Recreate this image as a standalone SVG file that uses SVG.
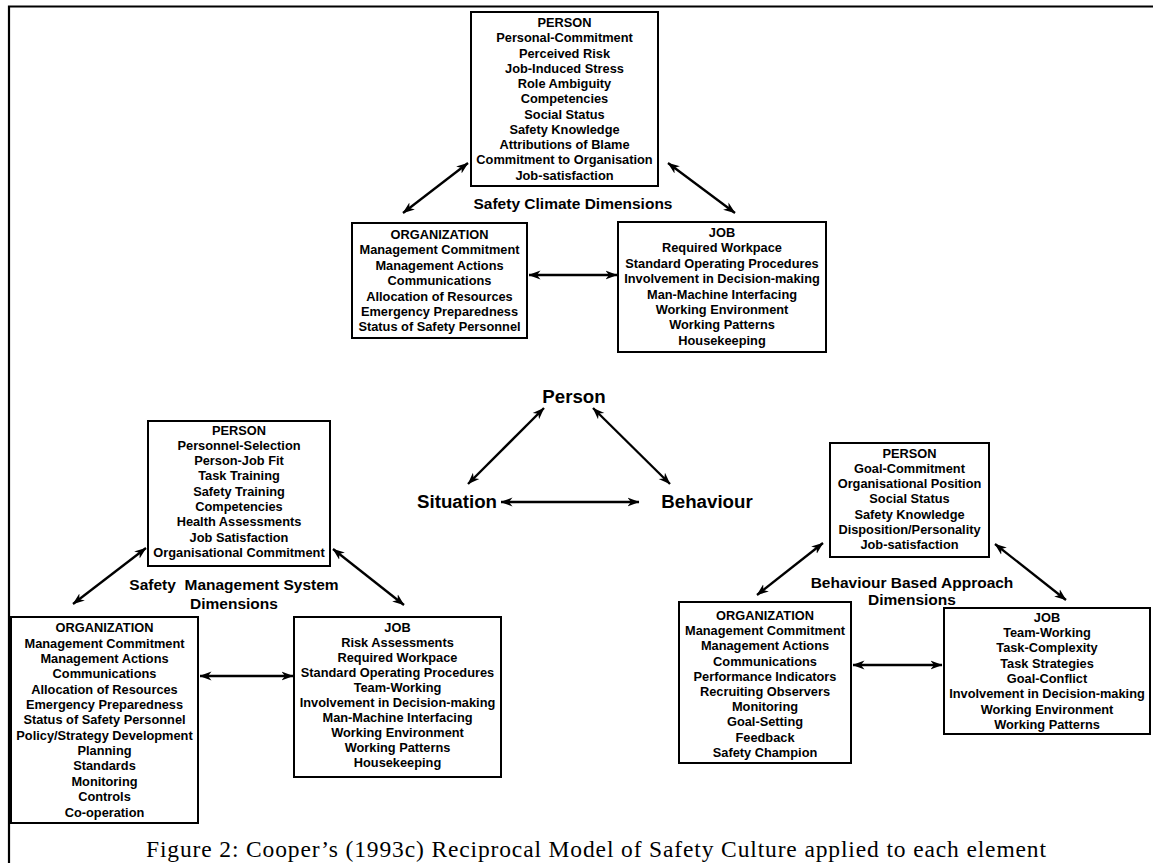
<svg xmlns="http://www.w3.org/2000/svg" width="1153" height="863" viewBox="0 0 1153 863">
<defs>
<marker id="ah" viewBox="0 0 12 10" refX="11.5" refY="5" markerWidth="12" markerHeight="10" markerUnits="userSpaceOnUse" orient="auto-start-reverse">
<path d="M0,0.5 L12,5 L0,9.5 L3.5,5 Z" fill="#000"/>
</marker>
<style>
.box{fill:#fff;stroke:#000;stroke-width:2}
.t{font-family:"Liberation Sans",Arial,Helvetica,sans-serif;font-weight:bold;font-size:12.8px;text-anchor:middle;fill:#000}
.lbl{font-family:"Liberation Sans",Arial,Helvetica,sans-serif;font-weight:bold;font-size:15.5px;text-anchor:middle;fill:#000;white-space:pre}
.big{font-family:"Liberation Sans",Arial,Helvetica,sans-serif;font-weight:bold;font-size:18.7px;text-anchor:middle;fill:#000}
.cap{font-family:"Liberation Serif","Times New Roman",serif;font-size:23.5px;fill:#000}
.c{fill:none;stroke:#000;stroke-width:2.3;marker-start:url(#ah);marker-end:url(#ah)}
</style>
</defs>
<rect width="1153" height="863" fill="#fff"/>
<path d="M9,863 V6.5 H1153" fill="none" stroke="#000" stroke-width="2.2"/>

<g id="connectors">
<line class="c" x1="403" y1="213" x2="468" y2="163"/>
<line class="c" x1="668" y1="163" x2="735" y2="213"/>
<line class="c" x1="529" y1="275" x2="617" y2="275"/>
<line class="c" x1="544" y1="408" x2="468" y2="484"/>
<line class="c" x1="593" y1="408" x2="670" y2="484"/>
<line class="c" x1="501" y1="502" x2="639" y2="502"/>
<line class="c" x1="146" y1="548" x2="73" y2="604"/>
<line class="c" x1="333" y1="549" x2="404" y2="605"/>
<line class="c" x1="200" y1="676" x2="293" y2="676"/>
<line class="c" x1="823" y1="543" x2="757" y2="595"/>
<line class="c" x1="995" y1="544" x2="1066" y2="600"/>
<line class="c" x1="853" y1="665" x2="942" y2="665"/>
</g>

<g id="center">
<text class="big" x="574" y="403">Person</text>
<text class="big" x="457" y="508">Situation</text>
<text class="big" x="707" y="508">Behaviour</text>
</g>

<g id="sc-person">
<rect class="box" x="471" y="12" width="187" height="174"/>
<text class="t" y="11.75"><tspan x="564.5" dy="15.25">PERSON</tspan><tspan x="564.5" dy="15.25">Personal-Commitment</tspan><tspan x="564.5" dy="15.25">Perceived Risk</tspan><tspan x="564.5" dy="15.25">Job-Induced Stress</tspan><tspan x="564.5" dy="15.25">Role Ambiguity</tspan><tspan x="564.5" dy="15.25">Competencies</tspan><tspan x="564.5" dy="15.25">Social Status</tspan><tspan x="564.5" dy="15.25">Safety Knowledge</tspan><tspan x="564.5" dy="15.25">Attributions of Blame</tspan><tspan x="564.5" dy="15.25">Commitment to Organisation</tspan><tspan x="564.5" dy="15.25">Job-satisfaction</tspan></text>
</g>
<text id="sc-label" class="lbl" x="573" y="209">Safety Climate Dimensions</text>
<g id="sc-org">
<rect class="box" x="352" y="223" width="175" height="115"/>
<text class="t" y="223.6"><tspan x="439.5" dy="15.4">ORGANIZATION</tspan><tspan x="439.5" dy="15.4">Management Commitment</tspan><tspan x="439.5" dy="15.4">Management Actions</tspan><tspan x="439.5" dy="15.4">Communications</tspan><tspan x="439.5" dy="15.4">Allocation of Resources</tspan><tspan x="439.5" dy="15.4">Emergency Preparedness</tspan><tspan x="439.5" dy="15.4">Status of Safety Personnel</tspan></text>
</g>
<g id="sc-job">
<rect class="box" x="618" y="222" width="208" height="130"/>
<text class="t" y="221.6"><tspan x="722" dy="15.4">JOB</tspan><tspan x="722" dy="15.4">Required Workpace</tspan><tspan x="722" dy="15.4">Standard Operating Procedures</tspan><tspan x="722" dy="15.4">Involvement in Decision-making</tspan><tspan x="722" dy="15.4">Man-Machine Interfacing</tspan><tspan x="722" dy="15.4">Working Environment</tspan><tspan x="722" dy="15.4">Working Patterns</tspan><tspan x="722" dy="15.4">Housekeeping</tspan></text>
</g>

<g id="sms-person">
<rect class="box" x="148" y="421" width="182" height="145"/>
<text class="t" y="419.2"><tspan x="239" dy="15.3">PERSON</tspan><tspan x="239" dy="15.3">Personnel-Selection</tspan><tspan x="239" dy="15.3">Person-Job Fit</tspan><tspan x="239" dy="15.3">Task Training</tspan><tspan x="239" dy="15.3">Safety Training</tspan><tspan x="239" dy="15.3">Competencies</tspan><tspan x="239" dy="15.3">Health Assessments</tspan><tspan x="239" dy="15.3">Job Satisfaction</tspan><tspan x="239" dy="15.3">Organisational Commitment</tspan></text>
</g>
<g id="sms-label">
<text class="lbl" x="234" y="590">Safety  Management System</text>
<text class="lbl" x="234" y="609">Dimensions</text>
</g>
<g id="sms-org">
<rect class="box" x="11" y="617" width="187" height="206"/>
<text class="t" y="616.95"><tspan x="104.5" dy="15.35">ORGANIZATION</tspan><tspan x="104.5" dy="15.35">Management Commitment</tspan><tspan x="104.5" dy="15.35">Management Actions</tspan><tspan x="104.5" dy="15.35">Communications</tspan><tspan x="104.5" dy="15.35">Allocation of Resources</tspan><tspan x="104.5" dy="15.35">Emergency Preparedness</tspan><tspan x="104.5" dy="15.35">Status of Safety Personnel</tspan><tspan x="104.5" dy="15.35">Policy/Strategy Development</tspan><tspan x="104.5" dy="15.35">Planning</tspan><tspan x="104.5" dy="15.35">Standards</tspan><tspan x="104.5" dy="15.35">Monitoring</tspan><tspan x="104.5" dy="15.35">Controls</tspan><tspan x="104.5" dy="15.35">Co-operation</tspan></text>
</g>
<g id="sms-job">
<rect class="box" x="294" y="617" width="207" height="160"/>
<text class="t" y="617.3"><tspan x="397.5" dy="15">JOB</tspan><tspan x="397.5" dy="15">Risk Assessments</tspan><tspan x="397.5" dy="15">Required Workpace</tspan><tspan x="397.5" dy="15">Standard Operating Procedures</tspan><tspan x="397.5" dy="15">Team-Working</tspan><tspan x="397.5" dy="15">Involvement in Decision-making</tspan><tspan x="397.5" dy="15">Man-Machine Interfacing</tspan><tspan x="397.5" dy="15">Working Environment</tspan><tspan x="397.5" dy="15">Working Patterns</tspan><tspan x="397.5" dy="15">Housekeeping</tspan></text>
</g>

<g id="bba-person">
<rect class="box" x="830" y="443" width="159" height="114"/>
<text class="t" y="442.2"><tspan x="909.5" dy="15.3">PERSON</tspan><tspan x="909.5" dy="15.3">Goal-Commitment</tspan><tspan x="909.5" dy="15.3">Organisational Position</tspan><tspan x="909.5" dy="15.3">Social Status</tspan><tspan x="909.5" dy="15.3">Safety Knowledge</tspan><tspan x="909.5" dy="15.3">Disposition/Personality</tspan><tspan x="909.5" dy="15.3">Job-satisfaction</tspan></text>
</g>
<g id="bba-org">
<rect class="box" x="679" y="602" width="172" height="161"/>
<text class="t" y="604.8"><tspan x="765" dy="15.2">ORGANIZATION</tspan><tspan x="765" dy="15.2">Management Commitment</tspan><tspan x="765" dy="15.2">Management Actions</tspan><tspan x="765" dy="15.2">Communications</tspan><tspan x="765" dy="15.2">Performance Indicators</tspan><tspan x="765" dy="15.2">Recruiting Observers</tspan><tspan x="765" dy="15.2">Monitoring</tspan><tspan x="765" dy="15.2">Goal-Setting</tspan><tspan x="765" dy="15.2">Feedback</tspan><tspan x="765" dy="15.2">Safety Champion</tspan></text>
</g>
<g id="bba-job">
<rect class="box" x="944" y="608" width="206" height="126"/>
<text class="t" y="606.5"><tspan x="1047" dy="15.3">JOB</tspan><tspan x="1047" dy="15.3">Team-Working</tspan><tspan x="1047" dy="15.3">Task-Complexity</tspan><tspan x="1047" dy="15.3">Task Strategies</tspan><tspan x="1047" dy="15.3">Goal-Conflict</tspan><tspan x="1047" dy="15.3">Involvement in Decision-making</tspan><tspan x="1047" dy="15.3">Working Environment</tspan><tspan x="1047" dy="15.3">Working Patterns</tspan></text>
</g>
<g id="bba-label">
<text class="lbl" x="912" y="588">Behaviour Based Approach</text>
<text class="lbl" x="912" y="605">Dimensions</text>
</g>

<text id="caption" class="cap" x="146" y="857" textLength="900" lengthAdjust="spacing">Figure 2: Cooper’s (1993c) Reciprocal Model of Safety Culture applied to each element</text>
</svg>
